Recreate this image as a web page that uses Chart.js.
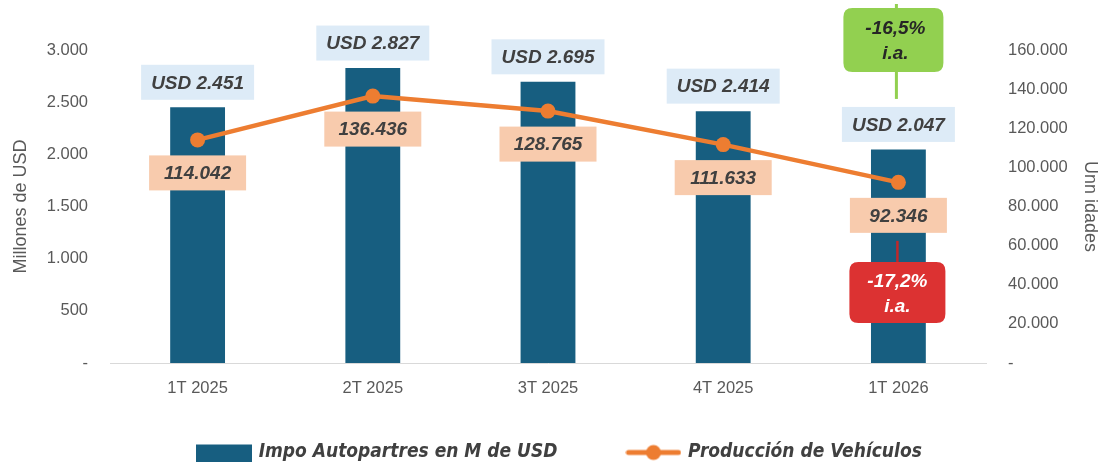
<!DOCTYPE html>
<html><head><meta charset="utf-8">
<script src="https://cdn.jsdelivr.net/npm/chart.js@4"></script>
<style>html,body{margin:0;padding:0;background:#fff}#wrap{width:1101px;height:462px;position:relative}</style>
</head><body><div id="wrap"><canvas id="c" width="1101" height="462"></canvas></div>
<script>
const categories = ["1T 2025","2T 2025","3T 2025","4T 2025","1T 2026"];
const impoValues = [2451, 2827, 2695, 2414, 2047];
const produccionValues = [114042, 136436, 128765, 111633, 92346];
const impoLabels = ["USD 2.451","USD 2.827","USD 2.695","USD 2.414","USD 2.047"];
const produccionLabels = ["114.042","136.436","128.765","111.633","92.346"];
const varImpo = ["-16,5%","i.a."];
const varProd = ["-17,2%","i.a."];

const BLUE = '#175E80', ORANGE = '#ED7D31';
const LBL_FONT = 'italic bold 19px "Liberation Sans", Arial, sans-serif';
const LEG_FONT_FAMILY = '"Liberation Sans Narrow", "DejaVu Sans Condensed", "Roboto Condensed", "DejaVu Sans", sans-serif';

function fmt(v){ if(v===0) return '-'; return v.toString().replace(/\B(?=(\d{3})+(?!\d))/g,'.'); }

function mkIcon(kind){
  const c = document.createElement('canvas'); c.width=56; c.height=18;
  const x = c.getContext('2d');
  if(kind==='bar'){ x.fillStyle=BLUE; x.fillRect(0,1,56,17); }
  else { x.strokeStyle=ORANGE; x.lineWidth=5; x.lineCap='round'; x.beginPath(); x.moveTo(3,9); x.lineTo(53,9); x.stroke();
    x.fillStyle=ORANGE; x.beginPath(); x.arc(28,9,7.5,0,Math.PI*2); x.fill(); }
  return c;
}
const barIcon = mkIcon('bar'), lineIcon = mkIcon('line');

function roundRect(ctx,x,y,w,h,r){ctx.beginPath();ctx.moveTo(x+r,y);ctx.lineTo(x+w-r,y);ctx.quadraticCurveTo(x+w,y,x+w,y+r);ctx.lineTo(x+w,y+h-r);ctx.quadraticCurveTo(x+w,y+h,x+w-r,y+h);ctx.lineTo(x+r,y+h);ctx.quadraticCurveTo(x,y+h,x,y+h-r);ctx.lineTo(x,y+r);ctx.quadraticCurveTo(x,y,x+r,y);ctx.closePath();}

const labelPlugin = {
  id:'labels',
  afterLayout(chart){
    const lg = chart.legend;
    if(lg){ lg.top -= 45; lg.bottom = chart.height; lg.left += 10; lg.right += 10; }
  },
  afterDatasetsDraw(chart){
    const ctx = chart.ctx; ctx.save();
    const xs = chart.scales.x, yl = chart.scales.y, yr = chart.scales.y1;
    ctx.font = LBL_FONT; ctx.textAlign='center'; ctx.textBaseline='middle';
    let lastBarLblTop=0, lastLineLblBottom=0;
    impoValues.forEach((v,i)=>{
      const x = xs.getPixelForValue(i), top = yl.getPixelForValue(v);
      const cy = top - 25, w=113, h=35;
      ctx.fillStyle='#DDEBF7'; ctx.fillRect(x-w/2, cy-h/2, w, h);
      ctx.fillStyle='#404040'; ctx.fillText(impoLabels[i], x, cy+1);
      if(i===impoValues.length-1) lastBarLblTop = cy-h/2;
    });
    produccionValues.forEach((v,i)=>{
      const x = xs.getPixelForValue(i), py = yr.getPixelForValue(v);
      const cy = py + 33, w=97, h=35;
      ctx.fillStyle='#F8CBAD'; ctx.fillRect(x-w/2, cy-h/2, w, h);
      ctx.fillStyle='#404040'; ctx.fillText(produccionLabels[i], x, cy+1);
      if(i===produccionValues.length-1) lastLineLblBottom = cy+h/2;
    });
    const n = categories.length-1, xl = xs.getPixelForValue(n);
    // green annotation
    ctx.strokeStyle='#92D050'; ctx.lineWidth=3;
    ctx.beginPath(); ctx.moveTo(xl-2, 4); ctx.lineTo(xl-2, lastBarLblTop-8); ctx.stroke();
    ctx.fillStyle='#92D050'; roundRect(ctx, xl-55, 8, 100, 64, 9); ctx.fill();
    ctx.fillStyle='#262626'; ctx.fillText(varImpo[0], xl-3, 29); ctx.fillText(varImpo[1], xl-3, 54);
    // red annotation
    ctx.strokeStyle='#C0282A'; ctx.lineWidth=2.5;
    ctx.beginPath(); ctx.moveTo(xl-1, lastLineLblBottom+8); ctx.lineTo(xl-1, 262); ctx.stroke();
    ctx.fillStyle='#DC3232'; roundRect(ctx, xl-49, 262, 96, 61, 9); ctx.fill();
    ctx.fillStyle='#FFFFFF'; ctx.fillText(varProd[0], xl-1, 282); ctx.fillText(varProd[1], xl-1, 307);
    ctx.restore();
  }
};

const tickFont = {family:'"Liberation Sans", Arial, sans-serif', size:16.5};
const titleFont = {family:'"Liberation Sans", Arial, sans-serif', size:18};
new Chart(document.getElementById('c'), {
  data:{
    labels: categories,
    datasets:[
      {type:'line', label:'Producción de Vehículos', data:produccionValues, yAxisID:'y1', borderColor:ORANGE, backgroundColor:ORANGE,
       borderWidth:4.5, pointRadius:7.5, pointHoverRadius:7.5, pointBackgroundColor:ORANGE, pointBorderWidth:0, tension:0, order:0, pointStyle: 'circle'},
      {type:'bar', label:'Impo Autopartres en M de USD', data:impoValues, yAxisID:'y', backgroundColor:BLUE,
       categoryPercentage:1, barPercentage:0.313, order:1}
    ]
  },
  options:{
    responsive:false, animation:false, devicePixelRatio:1,
    layout:{padding:{top:50,left:0,right:0,bottom:0}},
    plugins:{
      tooltip:{enabled:false},
      legend:{position:'bottom', maxHeight:45,
        labels:{usePointStyle:true, pointStyleWidth:50, boxWidth:50, boxHeight:18, padding:71,
          color:'#404040', font:{family:LEG_FONT_FAMILY, size:19, style:'italic', weight:'bold'},
          generateLabels(chart){
            return chart.data.datasets.map((d,i)=>({text:d.label, datasetIndex:i, pointStyle: d.type==='bar'?barIcon:lineIcon,
              fillStyle:'transparent', strokeStyle:'transparent', lineWidth:0, fontColor:'#404040'})).reverse();
          }
        }
      }
    },
    scales:{
      x:{grid:{display:false, drawTicks:false}, border:{display:true, color:'#D9D9D9', width:1},
         ticks:{color:'#595959', font:tickFont, padding:16},
         afterFit(s){ s.height = 54; }},
      y:{position:'left', min:0, max:3000, grid:{display:false, drawTicks:false}, border:{display:false},
         ticks:{stepSize:500, color:'#595959', font:tickFont, padding:22, callback:v=>fmt(v)},
         title:{display:true, text:'Millones de USD', color:'#595959', font:titleFont, padding:{top:10,bottom:4}},
         afterFit(s){ s.width = 110; }},
      y1:{position:'right', min:0, max:160000, grid:{display:false, drawTicks:false}, border:{display:false},
         ticks:{stepSize:20000, color:'#595959', font:tickFont, padding:22, callback:v=>fmt(v)},
         title:{display:true, text:'Unn idades', color:'#595959', font:titleFont, padding:{top:0,bottom:2}},
         afterFit(s){ s.width = 115; }}
    }
  },
  plugins:[labelPlugin]
});
</script></body></html>
